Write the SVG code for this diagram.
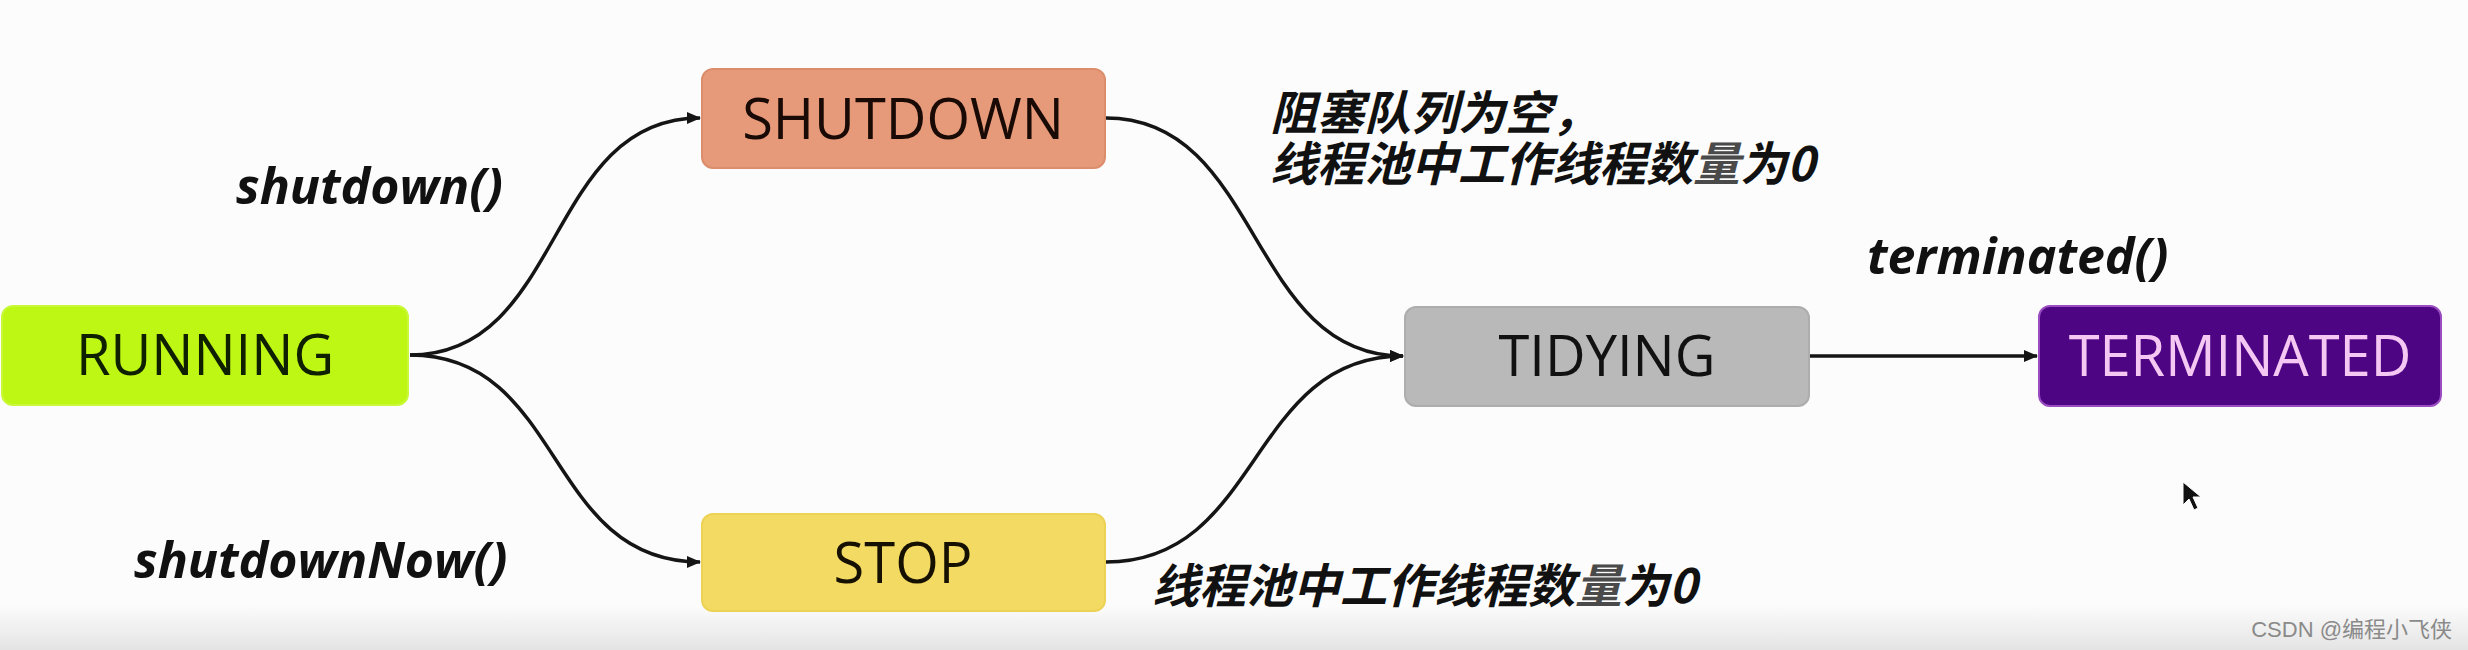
<svg xmlns="http://www.w3.org/2000/svg" width="2468" height="650" viewBox="0 0 2468 650">
<style>
.box{stroke-width:2}
.lbl{font-family:"Open Sans","Noto Sans",sans-serif;font-size:56px;text-anchor:middle}
.fn{font-family:"Open Sans","Noto Sans",sans-serif;font-size:50px;font-weight:bold;font-style:italic;fill:#111}
.cn{font-family:"Noto Sans CJK SC","Noto Sans",sans-serif;font-size:47px;font-weight:bold;font-style:italic;fill:#111}
.edge{fill:none;stroke:#151515;stroke-width:3.5;marker-end:url(#ah)}
</style>
<defs>
<marker id="ah" markerUnits="userSpaceOnUse" markerWidth="14" markerHeight="12" refX="13" refY="6" orient="auto">
<path d="M0,0 L14,6 L0,12 z" fill="#151515"/>
</marker>
<linearGradient id="band" x1="0" y1="0" x2="0" y2="1">
<stop offset="0" stop-color="#fcfcfc"/>
<stop offset="1" stop-color="#e4e4e4"/>
</linearGradient>
</defs>
<rect x="0" y="0" width="2468" height="650" fill="#fcfcfc"/>
<rect x="0" y="605" width="2468" height="45" fill="url(#band)"/>

<g id="connectors">
<path class="edge" d="M410,355 C565,355 545,118 700,118"/>
<path class="edge" d="M410,355 C565,355 545,562 700,562"/>
<path class="edge" d="M1106,118 C1262,118 1248,356 1403,356"/>
<path class="edge" d="M1106,562 C1262,562 1248,356 1403,356"/>
<path class="edge" d="M1810,356 L2037,356"/>
</g>

<g id="running">
<rect class="box" x="2" y="306" width="406" height="99" rx="11" fill="#bef714" stroke="#c8f838"/>
<text class="lbl" x="205" y="375" fill="#0f2000">RUNNING</text>
</g>
<g id="shutdown">
<rect class="box" x="702" y="69" width="403" height="99" rx="11" fill="#e69a7a" stroke="#dc8d6c"/>
<text class="lbl" x="903" y="139" fill="#1a0a05">SHUTDOWN</text>
</g>
<g id="stop">
<rect class="box" x="702" y="514" width="403" height="97" rx="11" fill="#f3da62" stroke="#ecd255"/>
<text class="lbl" x="903" y="583" fill="#151000">STOP</text>
</g>
<g id="tidying">
<rect class="box" x="1405" y="307" width="404" height="99" rx="11" fill="#b9b9b9" stroke="#adadad"/>
<text class="lbl" x="1607" y="376" fill="#111">TIDYING</text>
</g>
<g id="terminated">
<rect class="box" x="2039" y="306" width="402" height="100" rx="11" fill="#4e0584" stroke="#9a4cc0"/>
<text class="lbl" x="2240" y="376" fill="#f4c8f2">TERMINATED</text>
</g>

<g id="labels">
<text class="fn" x="236" y="204">shutdown()</text>
<text class="fn" x="134" y="578">shutdownNow()</text>
<text class="fn" x="1867" y="274">terminated()</text>
<text class="cn" x="1270" y="130"><tspan x="1270" y="130">阻塞队列为空，</tspan><tspan x="1270" y="181">线程池中工作线程数<tspan fill="#4a4a4a">量</tspan>为0</tspan></text>
<text class="cn" x="1152" y="603">线程池中工作线程数<tspan fill="#4a4a4a">量</tspan>为0</text>
</g>

<path d="M2183,482 L2183,505 L2189,499 L2194,510 L2198,508 L2193,497 L2201,497 z" fill="#111" stroke="#fff" stroke-width="1"/>
<text x="2452" y="637" text-anchor="end" font-family="'Liberation Sans','Noto Sans CJK SC',sans-serif" font-size="22" fill="#8a8a8a">CSDN @编程小飞侠</text>
</svg>
